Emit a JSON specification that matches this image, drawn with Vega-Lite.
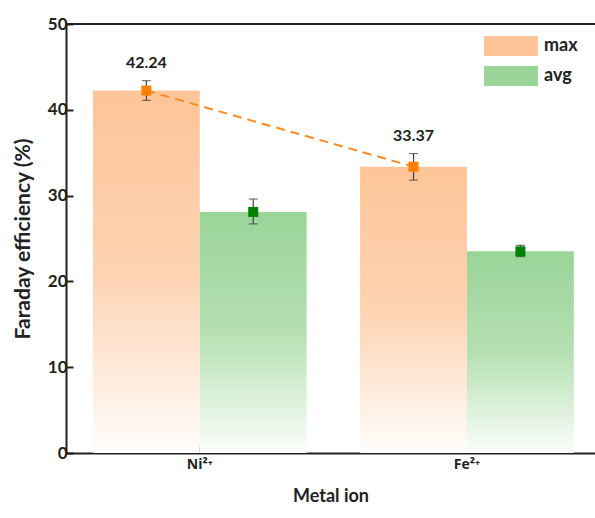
{
  "$schema": "https://vega.github.io/schema/vega-lite/v6.json",
  "width": 529,
  "height": 429,
  "autosize": "none",
  "padding": {"left": 66, "top": 24, "right": 0, "bottom": 65},
  "background": "white",
  "config": {
    "view": {"stroke": null},
    "font": "Lato",
    "axis": {
      "grid": false,
      "domainColor": "#222222",
      "domainWidth": 2,
      "tickColor": "#222222",
      "tickWidth": 2,
      "tickSize": -7,
      "labelFont": "Lato",
      "labelFontWeight": "bold",
      "labelColor": "#222222",
      "titleFont": "Lato",
      "titleFontWeight": "bold",
      "titleColor": "#222222"
    }
  },
  "data": {
    "values": [
      {"ion": "Ni²⁺", "series": "max", "value": 42.24, "lo": 41.1, "hi": 43.4},
      {"ion": "Ni²⁺", "series": "avg", "value": 28.1, "lo": 26.7, "hi": 29.6},
      {"ion": "Fe²⁺", "series": "max", "value": 33.37, "lo": 31.8, "hi": 34.9},
      {"ion": "Fe²⁺", "series": "avg", "value": 23.5, "lo": 22.9, "hi": 24.2}
    ]
  },
  "encoding": {
    "x": {
      "field": "ion",
      "type": "nominal",
      "sort": ["Ni²⁺", "Fe²⁺"],
      "scale": {"paddingInner": 0.2, "paddingOuter": 0.09, "align": 0.56},
      "axis": {"title": "Metal ion", "labelAngle": 0, "labelFont": "Open Sans", "labelFontSize": 14, "labelPadding": 11, "titleFontSize": 18, "titlePadding": 16}
    },
    "xOffset": {"field": "series", "type": "nominal", "sort": ["max", "avg"], "scale": {"domain": ["max", "avg"]}}
  },
  "layer": [
    {
      "mark": {"type": "bar", "opacity": 0},
      "encoding": {
        "y": {
          "field": "value",
          "type": "quantitative",
          "scale": {"domain": [0, 50], "nice": false},
          "axis": {"title": "Faraday efficiency (%)", "values": [0, 10, 20, 30, 40, 50], "labelFontSize": 17, "labelPadding": 6, "titleFontSize": 21, "titlePadding": 14}
        },
        "color": {
          "field": "series",
          "type": "nominal",
          "sort": ["max", "avg"],
          "scale": {"domain": ["max", "avg"], "range": ["#FDC598", "#9AD498"]},
          "legend": {
            "title": null,
            "orient": "none",
            "legendX": 418,
            "legendY": 12,
            "padding": 0,
            "symbolType": "M-1,-0.37H1V0.37H-1Z",
            "symbolSize": 2916,
            "symbolStrokeWidth": 0,
            "symbolOpacity": 1,
            "clipHeight": 20,
            "rowPadding": 10,
            "labelOffset": 6,
            "labelFont": "Lato",
            "labelFontWeight": "bold",
            "labelFontSize": 18,
            "labelColor": "#222222",
            "encode": {
              "symbols": {
                "update": {
                  "fill": {"value": {"expr": "datum.value === 'max' ? {gradient: 'linear', x1: 0, y1: 0, x2: 0, y2: 1, stops: [{offset: 0, color: '#FDC598'}, {offset: 0.5, color: '#FDD3B2'}, {offset: 1, color: '#FFFDFB'}]} : {gradient: 'linear', x1: 0, y1: 0, x2: 0, y2: 1, stops: [{offset: 0, color: '#9AD498'}, {offset: 0.5, color: '#B5E0B2'}, {offset: 1, color: '#FBFEFB'}]}"}}
                }
              }
            }
          }
        }
      }
    },
    {
      "transform": [{"filter": "datum.series === 'max'"}],
      "mark": {"type": "bar", "color": {"gradient": "linear", "x1": 0, "y1": 0, "x2": 0, "y2": 1, "stops": [{"offset": 0, "color": "#FDC598"}, {"offset": 0.5, "color": "#FDD3B2"}, {"offset": 1, "color": "#FFFDFB"}]}},
      "encoding": {"y": {"field": "value", "type": "quantitative"}}
    },
    {
      "transform": [{"filter": "datum.series === 'avg'"}],
      "mark": {"type": "bar", "color": {"gradient": "linear", "x1": 0, "y1": 0, "x2": 0, "y2": 1, "stops": [{"offset": 0, "color": "#9AD498"}, {"offset": 0.5, "color": "#B5E0B2"}, {"offset": 1, "color": "#FBFEFB"}]}},
      "encoding": {"y": {"field": "value", "type": "quantitative"}}
    },
    {
      "mark": {"type": "rule", "color": "#222222", "strokeWidth": 2},
      "encoding": {"y": {"datum": 50, "type": "quantitative"}, "x": null, "xOffset": null}
    },
    {
      "transform": [{"filter": "datum.series === 'max'"}],
      "mark": {"type": "line", "color": "#FF8A1F", "strokeWidth": 2, "strokeDash": [9, 6]},
      "encoding": {"y": {"field": "value", "type": "quantitative"}}
    },
    {
      "mark": {"type": "rule", "color": "#404040", "strokeWidth": 1.2},
      "encoding": {"y": {"field": "lo", "type": "quantitative"}, "y2": {"field": "hi"}}
    },
    {
      "mark": {"type": "tick", "color": "#404040", "thickness": 1.2, "size": 9, "orient": "horizontal"},
      "encoding": {"y": {"field": "lo", "type": "quantitative"}}
    },
    {
      "mark": {"type": "tick", "color": "#404040", "thickness": 1.2, "size": 9, "orient": "horizontal"},
      "encoding": {"y": {"field": "hi", "type": "quantitative"}}
    },
    {
      "mark": {"type": "point", "shape": "square", "filled": true, "size": 100, "opacity": 1},
      "encoding": {
        "y": {"field": "value", "type": "quantitative"},
        "fill": {"field": "series", "type": "nominal", "scale": {"domain": ["max", "avg"], "range": ["#FF8000", "#008000"]}, "legend": null}
      }
    },
    {
      "transform": [{"filter": "datum.series === 'max'"}],
      "mark": {"type": "text", "font": "Lato", "fontWeight": "bold", "fontSize": 16, "color": "#222222", "baseline": "bottom", "dy": -10},
      "encoding": {
        "y": {"field": "hi", "type": "quantitative"},
        "text": {"field": "value", "type": "quantitative", "format": ".2f"}
      }
    }
  ]
}
